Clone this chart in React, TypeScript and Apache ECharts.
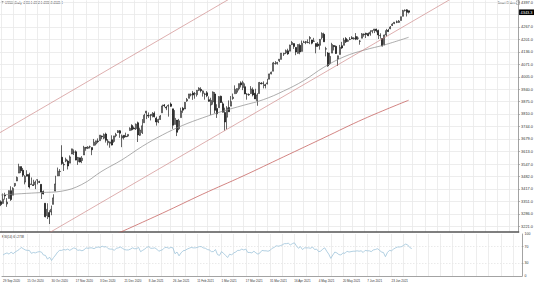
import React, { useEffect, useRef } from "react";
import * as echarts from "echarts";

// Daily bars: [open, high, low, close]
const candles: number[][] = [
  [3350,3357,3327,3335],[3341,3393,3340,3363],[3385,3397,3361,3380],[3338,3369,3323,3348],[3367,3409,3367,3408],
  [3408,3431,3354,3361],[3384,3426,3384,3419],[3434,3447,3428,3446],[3459,3482,3458,3477],[3500,3549,3500,3534],
  [3534,3534,3500,3512],[3515,3527,3480,3489],[3453,3489,3441,3483],[3493,3515,3483,3484],[3493,3502,3419,3427],
  [3440,3477,3440,3443],[3439,3465,3433,3435],[3439,3461,3416,3453],[3464,3466,3441,3465],[3455,3460,3448,3452],
  [3441,3441,3364,3401],[3403,3409,3388,3391],[3342,3342,3268,3271],[3277,3342,3259,3310],[3293,3305,3233,3270],
  [3296,3330,3279,3310],[3336,3389,3336,3370],[3406,3486,3405,3443],[3485,3529,3485,3510],[3508,3521,3484,3509],
  [3583,3646,3543,3550],[3543,3557,3511,3545],[3563,3581,3557,3572],[3563,3570,3519,3537],[3552,3593,3552,3585],
  [3600,3628,3600,3627],[3610,3624,3595,3610],[3612,3619,3567,3568],[3560,3585,3543,3582],[3580,3581,3556,3558],
  [3566,3589,3552,3578],[3595,3643,3595,3635],[3635,3635,3617,3630],[3630,3641,3626,3636],[3638,3644,3629,3638],
  [3634,3634,3594,3622],[3645,3679,3645,3662],[3653,3670,3645,3669],[3668,3682,3657,3666],[3670,3699,3670,3699],
  [3694,3697,3678,3691],[3683,3708,3678,3702],[3705,3712,3660,3672],[3659,3678,3645,3668],[3656,3665,3633,3663],
  [3675,3698,3645,3647],[3666,3695,3659,3695],[3696,3711,3688,3702],[3713,3725,3710,3722],[3722,3726,3685,3709],
  [3684,3702,3636,3695],[3698,3698,3676,3687],[3693,3712,3689,3690],[3694,3703,3689,3703],[3723,3740,3723,3735],
  [3750,3756,3723,3727],[3736,3744,3730,3732],[3733,3760,3726,3756],[3764,3770,3663,3700],[3698,3738,3695,3726],
  [3712,3783,3705,3748],[3764,3811,3764,3803],[3815,3826,3783,3825],[3803,3818,3789,3799],[3801,3810,3776,3801],
  [3802,3820,3792,3809],[3814,3823,3792,3795],[3788,3796,3749,3768],[3768,3785,3762,3781],[3781,3804,3780,3799],
  [3816,3859,3816,3852],[3857,3862,3845,3853],[3845,3852,3830,3841],[3851,3860,3796,3855],[3862,3870,3847,3850],
  [3837,3837,3732,3751],[3755,3830,3755,3787],[3778,3778,3694,3714],[3732,3784,3725,3774],[3791,3843,3791,3826],
  [3840,3847,3816,3830],[3836,3872,3836,3871],[3878,3894,3874,3886],[3892,3915,3892,3915],[3910,3918,3902,3911],
  [3920,3931,3884,3909],[3916,3925,3890,3916],[3911,3935,3901,3934],[3934,3950,3930,3945],[3939,3950,3923,3932],
  [3918,3933,3901,3931],[3915,3921,3885,3913],[3921,3930,3898,3906],[3885,3902,3874,3876],[3857,3895,3805,3881],
  [3873,3928,3859,3925],[3915,3925,3814,3829],[3839,3861,3789,3811],[3843,3903,3843,3901],[3903,3906,3868,3870],
  [3863,3874,3818,3819],[3818,3843,3723,3768],[3793,3851,3730,3842],[3844,3881,3822,3821],[3851,3904,3851,3875],
  [3891,3917,3885,3898],[3916,3960,3916,3939],[3924,3944,3915,3943],[3942,3969,3933,3969],[3973,3981,3949,3962],
  [3949,3984,3935,3974],[3953,3970,3914,3915],[3913,3919,3885,3913],[3912,3918,3905,3910],[3917,3956,3916,3941],
  [3937,3949,3902,3910],[3919,3942,3889,3889],[3880,3919,3853,3910],[3917,3978,3917,3975],[3972,3977,3965,3968],
  [3970,3981,3944,3971],[3963,3968,3944,3959],[3968,3994,3965,3973],[3992,4021,3992,4020],[4020,4032,4018,4029],
  [4034,4083,4034,4078],[4075,4087,4069,4074],[4074,4083,4069,4080],[4089,4098,4082,4097],[4096,4129,4096,4129],
  [4124,4131,4114,4128],[4130,4148,4124,4142],[4141,4152,4120,4125],[4139,4173,4139,4171],[4174,4192,4171,4185],
  [4179,4180,4151,4164],[4159,4160,4118,4135],[4128,4175,4126,4174],[4170,4179,4123,4135],[4138,4195,4138,4180],
  [4185,4194,4183,4187],[4188,4193,4176,4186],[4185,4201,4181,4184],[4206,4218,4176,4211],[4198,4199,4175,4181],
  [4191,4209,4188,4192],[4179,4180,4128,4164],[4177,4187,4161,4167],[4170,4202,4147,4201],[4210,4238,4201,4232],
  [4228,4236,4188,4188],[4150,4162,4112,4152],[4130,4135,4057,4063],[4074,4131,4068,4112],[4129,4183,4129,4174],
  [4169,4171,4143,4163],[4165,4169,4125,4127],[4098,4116,4062,4115],[4122,4172,4122,4159],[4168,4188,4151,4156],
  [4170,4209,4170,4197],[4205,4213,4182,4188],[4191,4202,4188,4195],[4201,4213,4197,4200],[4210,4218,4203,4204],
  [4204,4212,4200,4207],[4216,4234,4197,4202],[4207,4217,4198,4208],[4191,4197,4173,4192],[4207,4234,4207,4230],
  [4229,4232,4215,4226],[4233,4236,4208,4227],[4232,4237,4218,4220],[4229,4249,4220,4239],[4243,4249,4233,4247],
  [4248,4256,4234,4255],[4255,4257,4238,4246],[4248,4252,4203,4224],[4220,4233,4205,4222],[4205,4208,4164,4166],
  [4174,4226,4170,4224],[4224,4256,4217,4247],[4249,4256,4241,4242],[4256,4271,4255,4266],[4274,4286,4271,4281],
  [4284,4292,4281,4291],[4293,4300,4286,4291],[4290,4302,4288,4297],[4300,4320,4300,4320],[4322,4356,4322,4352],
  [4352,4358,4347,4354],[4356,4359,4321,4343],[4351.1,4352.1,4336.8,4343.3],
];

const rsiValues: number[] = [
  50,53,55,52,57,53,57,60,63,68,
  65,62,61,61,54,56,55,57,58,57,
  50,49,40,45,37,44,50,57,61,61,
  63,62,64,61,64,67,65,61,62,60,
  62,67,66,67,67,65,68,69,68,71,
  69,70,65,64,64,61,66,67,69,66,
  63,62,62,64,67,65,65,68,58,61,
  64,68,70,66,66,67,64,59,61,63,
  68,68,66,68,67,53,57,48,55,60,
  61,64,66,68,67,67,68,70,70,67,
  66,63,62,58,58,63,51,49,58,54,
  49,44,52,50,55,57,61,61,64,62,
  64,56,56,55,59,55,52,55,61,60,
  60,59,61,66,68,72,71,72,74,77,
  77,78,74,77,79,72,66,70,63,67,
  67,67,66,69,63,64,58,59,64,67,
  59,52,42,50,57,55,51,50,55,54,
  59,57,58,59,59,60,59,60,56,61,
  60,60,58,62,63,65,62,57,56,46,
  56,61,60,64,67,69,69,70,73,76,
  74,68,65.27,
];

// Moving averages read at sparse bars: [bar, value]
const ma50: number[][] = [
  [0,3385],[10,3392],[20,3398],[30,3405],[40,3440],[50,3510],[60,3570],[70,3640],[80,3700],[90,3750],
  [100,3790],[110,3825],[120,3855],[130,3885],[140,3930],[150,3985],[160,4055],[170,4110],[180,4145],[190,4172],[202,4212],
];
const ma200: number[][] = [
  [56,3175],[80,3290],[100,3390],[120,3485],[140,3585],[160,3685],[180,3785],[202,3882],
];

// Trend channel lines: [bar, price] endpoints
const trendUpper: number[][] = [[-2,3703],[120,4455]];
const trendMiddle: number[][] = [[20,3163],[240,4518]];

const xLabels = [
  "29 Sep 2020","15 Oct 2020","30 Oct 2020","17 Nov 2020","3 Dec 2020","21 Dec 2020",
  "8 Jan 2021","26 Jan 2021","11 Feb 2021","1 Mar 2021","17 Mar 2021","31 Mar 2021",
  "16 Apr 2021","4 May 2021","20 May 2021","7 Jun 2021","23 Jun 2021",
];
// Price grid levels; the one under the current-price box shows no label
const priceTicks = [
  4397.0,4332.0,4267.0,4201.0,4136.0,4071.0,4005.0,3940.0,3875.0,3810.0,
  3744.0,3679.0,3613.0,3547.0,3482.0,3417.0,3351.0,3286.0,3221.0,
];
const priceLabels = [
  4397.0,4267.0,4201.0,4136.0,4071.0,4005.0,3940.0,3875.0,3810.0,
  3744.0,3679.0,3613.0,3547.0,3482.0,3417.0,3351.0,3286.0,3221.0,
];
const rsiLabelTicks = [0, 30, 70, 100];
const rsiLevels = [30, 70];
const headerText = "US500,Daily  4351.1 4352.1 4336.8 4343.3";
const rsiTitle = "RSI(14) 65.2738";
const toolText = "Smart Orders";

export default function App() {
  const ref = useRef<HTMLDivElement>(null);
  useEffect(() => {
    if (!ref.current) return;
    const chart = echarts.init(ref.current, null, { renderer: "svg" });
    const font = "'Liberation Sans', Arial, sans-serif";
    const lastClose = candles[candles.length - 1][3];
    const gridSteps: number[] = [];
    for (let v = 0; v <= 256; v += 6) gridSteps.push(v);
    const labelSteps = xLabels.map((_, i) => i * 12);
    const gridColor = "#e9e9e9";
    const axisColor = "#8c8c8c";

    const option: any = {
      animation: false,
      backgroundColor: "#ffffff",
      grid: [
        { left: 0, top: 0, width: 522, height: 232 },
        { left: 0, top: 234, width: 522, height: 42 },
      ],
      xAxis: [
        {
          type: "value", gridIndex: 0, min: -0.5, max: 256.5,
          axisLine: { show: true, onZero: false, lineStyle: { color: "#555", width: 1.5 } },
          axisTick: { show: false, customValues: gridSteps },
          axisLabel: { show: false },
          splitLine: { show: true, lineStyle: { color: gridColor, width: 0.8 } },
        },
        {
          type: "value", gridIndex: 1, min: -0.5, max: 256.5,
          axisLine: { show: true, onZero: false, lineStyle: { color: axisColor, width: 0.8 } },
          axisTick: { show: false, customValues: gridSteps },
          axisLabel: {
            customValues: labelSteps, fontSize: 3, color: "#333", fontFamily: font,
            align: "left", margin: 3,
            formatter: (v: number) => xLabels[Math.round(v / 12)] ?? "",
          },
          splitLine: { show: true, lineStyle: { color: gridColor, width: 0.8 } },
        },
      ],
      yAxis: [
        {
          type: "value", gridIndex: 0, position: "right", min: 3191.15, max: 4405.9,
          axisLine: { show: true, onZero: false, lineStyle: { color: axisColor, width: 0.8 } },
          axisTick: { show: true, length: 1.5, customValues: priceTicks, lineStyle: { color: axisColor, width: 0.6 } },
          axisLabel: {
            customValues: priceLabels, fontSize: 3.9, color: "#333", fontFamily: font, margin: 2.5,
            formatter: (v: number) => v.toFixed(1),
          },
          splitLine: { show: true, lineStyle: { color: gridColor, width: 0.8 } },
        },
        {
          type: "value", gridIndex: 1, position: "right", min: 0, max: 100,
          axisLine: { show: true, onZero: false, lineStyle: { color: axisColor, width: 0.8 } },
          axisTick: { show: true, length: 1.5, customValues: rsiLevels, lineStyle: { color: axisColor, width: 0.6 } },
          axisLabel: {
            customValues: rsiLabelTicks, fontSize: 3.5, color: "#333", fontFamily: font, margin: 2.5,
          },
          splitLine: { show: true, lineStyle: { color: "#dcdcdc", width: 0.6, type: [1.5, 1.5] } },
        },
      ],
      series: [
        {
          type: "candlestick", xAxisIndex: 0, yAxisIndex: 0, barWidth: 1.5, clip: true,
          data: candles.map((c, i) => [i, c[0], c[3], c[2], c[1]]),
          itemStyle: { color: "#ffffff", color0: "#000000", borderColor: "#000000", borderColor0: "#000000", borderWidth: 0.6 },
          markLine: {
            silent: true, symbol: ["none", "none"],
            lineStyle: { color: "rgba(0,0,0,0)", width: 0 },
            label: {
              show: true, position: "end", distance: 0.5,
              formatter: () => lastClose.toFixed(1),
              backgroundColor: "#000", color: "#fff", fontSize: 3.9, fontFamily: font,
              padding: [1, 1.5, 0.6, 1.5],
            },
            data: [{ yAxis: lastClose }],
          },
        },
        {
          type: "line", xAxisIndex: 0, yAxisIndex: 0, data: ma50, symbol: "none", smooth: 0.4,
          lineStyle: { color: "#8a8a8a", width: 0.7 },
        },
        {
          type: "line", xAxisIndex: 0, yAxisIndex: 0, data: ma200, symbol: "none", smooth: 0.4,
          lineStyle: { color: "#c0504d", width: 0.7 },
        },
        {
          type: "line", xAxisIndex: 0, yAxisIndex: 0, data: trendUpper, symbol: "none", clip: true,
          lineStyle: { color: "#c87878", width: 0.6 },
        },
        {
          type: "line", xAxisIndex: 0, yAxisIndex: 0, data: trendMiddle, symbol: "none", clip: true,
          lineStyle: { color: "#c87878", width: 0.6 },
        },
        {
          type: "line", xAxisIndex: 1, yAxisIndex: 1, data: rsiValues.map((v, i) => [i, v]), symbol: "none",
          lineStyle: { color: "#9ec4da", width: 0.8 },
        },
      ],
      graphic: [
        { type: "polygon", shape: { points: [[1, 1.6], [3.6, 1.6], [2.3, 3.6]] }, style: { fill: "#333" } },
        { type: "text", x: 5, y: 2.7, style: { text: headerText, fontSize: 3, fill: "#333", fontFamily: font, verticalAlign: "middle" } },
        { type: "text", x: 515.5, y: 2.7, style: { text: toolText, fontSize: 3, fill: "#333", fontFamily: font, align: "right", verticalAlign: "middle" } },
        { type: "rect", shape: { x: 516.5, y: 0.8, width: 3, height: 3.6 }, style: { fill: "#fff", stroke: "#777", lineWidth: 0.5 } },
        { type: "text", x: 2, y: 236.3, style: { text: rsiTitle, fontSize: 3, fill: "#333", fontFamily: font, verticalAlign: "middle" } },
      ],
    };
    chart.setOption(option);
    return () => chart.dispose();
  }, []);
  return (
    <div
      ref={ref}
      style={{ position: "fixed", left: 0, top: 0, width: 536, height: 284, background: "#fff" }}
    />
  );
}
